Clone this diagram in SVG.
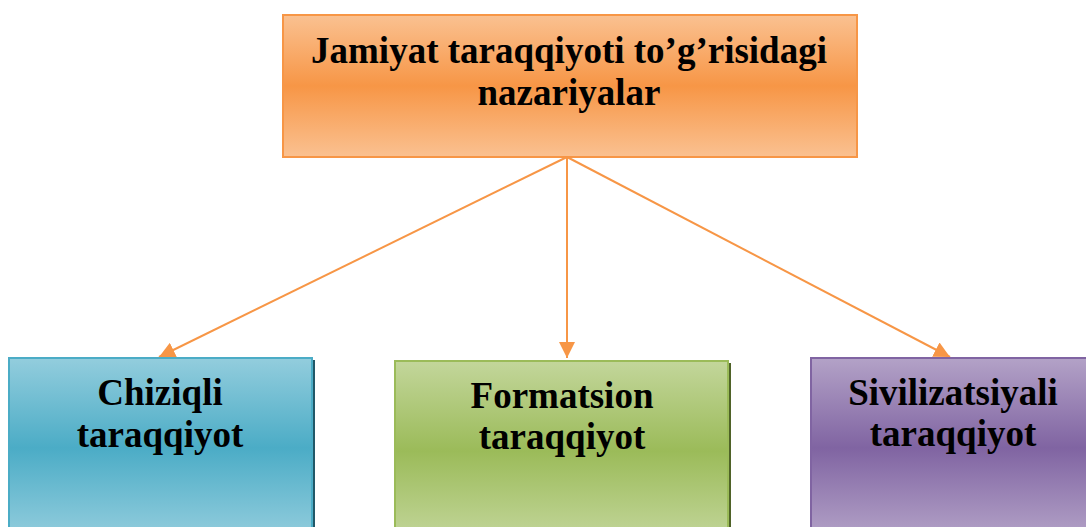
<svg xmlns="http://www.w3.org/2000/svg" width="1086" height="527" viewBox="0 0 1086 527">
<defs>
<linearGradient id="gO" x1="0" y1="0" x2="0" y2="1">
<stop offset="0" stop-color="#fac191"/><stop offset="0.5" stop-color="#f79646"/><stop offset="1" stop-color="#fac191"/>
</linearGradient>
<linearGradient id="gB" x1="0" y1="0" x2="0" y2="1">
<stop offset="0" stop-color="#93cddd"/><stop offset="0.5" stop-color="#4bacc6"/><stop offset="1" stop-color="#93cddd"/>
</linearGradient>
<linearGradient id="gG" x1="0" y1="0" x2="0" y2="1">
<stop offset="0" stop-color="#c3d69b"/><stop offset="0.5" stop-color="#9bbb59"/><stop offset="1" stop-color="#c3d69b"/>
</linearGradient>
<linearGradient id="gP" x1="0" y1="0" x2="0" y2="1">
<stop offset="0" stop-color="#b3a2c7"/><stop offset="0.5" stop-color="#8064a2"/><stop offset="1" stop-color="#b3a2c7"/>
</linearGradient>
<marker id="ah" viewBox="0 0 10 10" refX="10" refY="5" markerWidth="8" markerHeight="8" markerUnits="strokeWidth" orient="auto">
<path d="M0,0 L10,5 L0,10 z" fill="#f79646"/>
</marker>
</defs>
<style>
text{font-family:"Liberation Serif","Times New Roman",serif;font-weight:bold;font-size:37px;fill:#000;text-anchor:middle}
.c{stroke:#f79646;stroke-width:2;fill:none;marker-end:url(#ah)}
</style>
<g id="connectors">
<line class="c" x1="567" y1="157" x2="159" y2="357"/>
<line class="c" x1="567" y1="157" x2="567" y2="358"/>
<line class="c" x1="567" y1="157" x2="950" y2="357"/>
</g>
<g id="top">
<rect x="283" y="15" width="574" height="142" fill="url(#gO)" stroke="#f79646" stroke-width="2"/>
<text x="569" y="63">Jamiyat taraqqiyoti to’g’risidagi</text>
<text x="569" y="105">nazariyalar</text>
</g>
<g id="chiziqli">
<rect x="11" y="360" width="304" height="180" fill="#215868"/>
<rect x="9" y="358" width="303" height="180" fill="url(#gB)" stroke="#4bacc6" stroke-width="2"/>
<text x="160" y="405">Chiziqli</text>
<text x="160" y="447">taraqqiyot</text>
</g>
<g id="formatsion">
<rect x="397" y="363" width="334" height="180" fill="#4f6228"/>
<rect x="395" y="361" width="333" height="180" fill="url(#gG)" stroke="#9bbb59" stroke-width="2"/>
<text x="562" y="408">Formatsion</text>
<text x="562" y="449">taraqqiyot</text>
</g>
<g id="sivilizatsiyali">
<rect x="811" y="358" width="290" height="180" fill="url(#gP)" stroke="#8064a2" stroke-width="2"/>
<text x="953" y="405">Sivilizatsiyali</text>
<text x="953" y="446">taraqqiyot</text>
</g>
</svg>
